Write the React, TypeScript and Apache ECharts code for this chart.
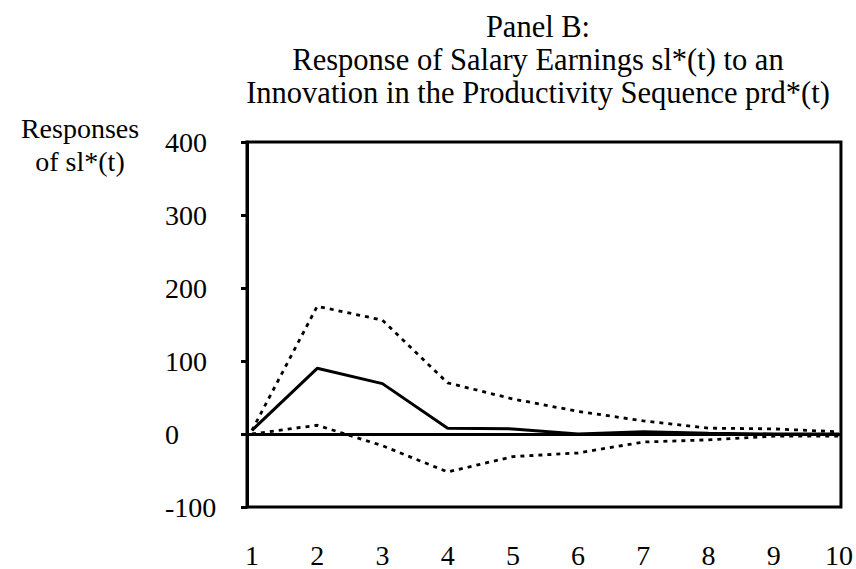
import React, { useEffect, useRef } from "react";
import * as echarts from "echarts";

const periods = [1, 2, 3, 4, 5, 6, 7, 8, 9, 10];
const responseMid = [5, 90, 69, 8, 7, 0, 3, 1, 0, 0];
const responseUpper = [5, 175, 156, 70, 48, 31, 18, 8, 7, 3];
const responseLower = [0, 12, -16, -52, -31, -26, -11, -8, -3, -3];
const yTicks = [-100, 0, 100, 200, 300, 400];

const titleText =
  "Panel B:\nResponse of Salary Earnings sl*(t) to an\nInnovation in the Productivity Sequence prd*(t)";
const yName = "Responses\nof sl*(t)";

const FONT = "'Liberation Serif', 'Times New Roman', serif";

export default function App() {
  const ref = useRef<HTMLDivElement>(null);
  useEffect(() => {
    if (!ref.current) return;
    const chart = echarts.init(ref.current, null, { renderer: "svg" });
    const toPairs = (arr: number[]) => periods.map((p, i) => [p, arr[i]]);
    const dashed = {
      color: "#000",
      width: 2.8,
      type: [4, 5] as any,
    };
    chart.setOption({
      animation: false,
      backgroundColor: "#fff",
      title: [
        {
          text: titleText,
          left: 533,
          top: 5,
          textAlign: "center",
          textStyle: {
            fontFamily: FONT,
            fontSize: 30.5,
            fontWeight: "normal",
            color: "#000",
            lineHeight: 33,
          },
        },
        {
          text: yName,
          left: 75,
          top: 107,
          textAlign: "center",
          textStyle: {
            fontFamily: FONT,
            fontSize: 28,
            fontWeight: "normal",
            color: "#000",
            lineHeight: 33,
          },
        },
      ],
      grid: {
        left: 247,
        right: 13,
        top: 142,
        bottom: 62,
        show: true,
        borderColor: "#000",
        borderWidth: 3,
        backgroundColor: "transparent",
      },
      xAxis: {
        type: "value",
        min: 0.9236,
        max: 10.03,
        axisLine: { show: false, onZero: false },
        axisTick: { show: false },
        splitLine: { show: false },
        axisLabel: {
          customValues: periods,
          margin: 34,
          fontFamily: FONT,
          fontSize: 28,
          color: "#000",
        },
      },
      yAxis: {
        type: "value",
        min: -100,
        max: 400,
        interval: 100,
        axisLine: { show: true, lineStyle: { color: "#000", width: 3 } },
        axisTick: {
          show: true,
          inside: false,
          length: 6,
          customValues: yTicks,
          lineStyle: { color: "#000", width: 3 },
        },
        splitLine: { show: false },
        axisLabel: {
          margin: 82,
          align: "left",
          fontFamily: FONT,
          fontSize: 28,
          color: "#000",
          padding: [4, 0, 0, 0],
        },
      },
      series: [
        {
          type: "line",
          data: toPairs(responseMid),
          symbol: "none",
          lineStyle: { color: "#000", width: 3 },
          markLine: {
            silent: true,
            symbol: "none",
            label: { show: false },
            lineStyle: { color: "#000", width: 3, type: "solid" },
            data: [{ yAxis: 0 }],
          },
          z: 3,
        },
        {
          type: "line",
          data: toPairs(responseUpper),
          symbol: "none",
          lineStyle: dashed,
        },
        {
          type: "line",
          data: toPairs(responseLower),
          symbol: "none",
          lineStyle: dashed,
        },
      ],
    });
    return () => chart.dispose();
  }, []);
  return (
    <div
      ref={ref}
      style={{ position: "fixed", left: 0, top: 0, width: 856, height: 569 }}
    />
  );
}
